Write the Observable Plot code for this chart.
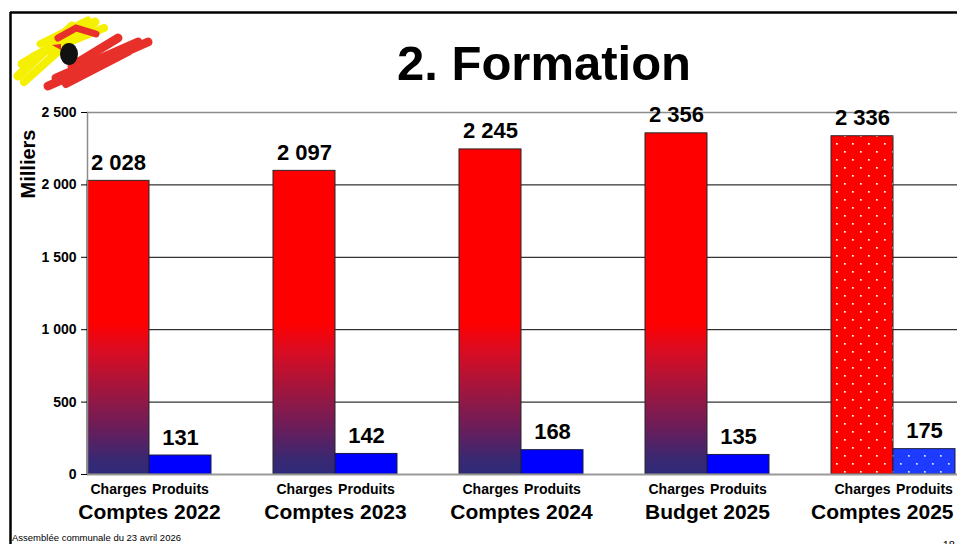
<!DOCTYPE html>
<html><head><meta charset="utf-8">
<script src="https://cdn.jsdelivr.net/npm/d3@7"></script>
<script src="https://cdn.jsdelivr.net/npm/@observablehq/plot@0.6"></script>
<style>
html,body{margin:0;padding:0;overflow:hidden;background:#fff;}
#slide{position:relative;width:957px;height:544px;overflow:hidden;font-family:"Liberation Sans",Arial,sans-serif;}
#overlay{position:absolute;left:0;top:0;}
#chart{position:absolute;left:0;top:100px;width:1017px;}
#chart svg{max-width:none !important;}
</style></head><body>
<div id="slide">
<svg id="overlay" width="957" height="544" font-family="'Liberation Sans', Arial, sans-serif">
  <line x1="10" y1="12.5" x2="957" y2="12.5" stroke="#000" stroke-width="2.5"/>
  <line x1="10.5" y1="12" x2="10.5" y2="544" stroke="#000" stroke-width="2.5"/>
  <g stroke-linecap="round" fill="none">
    <path d="M18 76 L72 26" stroke="#f5f000" stroke-width="9"/>
    <path d="M22 64 L95 22" stroke="#f5f000" stroke-width="9"/>
    <path d="M24 82 L62 48" stroke="#f5f000" stroke-width="8"/>
    <path d="M34 56 L104 28" stroke="#f5f000" stroke-width="8"/>
    <path d="M40 44 L88 20" stroke="#f5f000" stroke-width="7"/>
    <path d="M58 38 L76 28 L96 34" stroke="#e8302a" stroke-width="7"/>
    <path d="M48 86 L148 42" stroke="#e8302a" stroke-width="9"/>
    <path d="M56 78 L138 42" stroke="#e8302a" stroke-width="9"/>
    <path d="M66 84 L128 52" stroke="#e8302a" stroke-width="8"/>
    <path d="M72 66 L118 38" stroke="#e8302a" stroke-width="9"/>
  </g>
  <ellipse cx="69" cy="54" rx="9" ry="11" fill="#111"/>
  <path d="M61 44 L52 45 L61 50 Z" fill="#e8302a"/>
  <text x="544" y="80" text-anchor="middle" font-size="49" font-weight="bold" fill="#000">2. Formation</text>
  <text transform="translate(35,164) rotate(-90)" text-anchor="middle" font-size="20" font-weight="bold" fill="#000">Milliers</text>
  <text x="12" y="541" font-size="9.5" fill="#000">Assemblée communale du 23 avril 2026</text>
  <text x="955" y="549" text-anchor="end" font-size="11" fill="#000">18</text>
</svg>
<div id="chart"></div>
</div>
<svg width="0" height="0" style="position:absolute">
  <defs>
    <linearGradient id="gradCharges" gradientUnits="userSpaceOnUse" x1="0" x2="0" y1="0" y2="1">
      <stop offset="0" stop-color="#FF0000"/>
      <stop offset="0.2" stop-color="#D80C24"/>
      <stop offset="0.45" stop-color="#A0163E"/>
      <stop offset="0.7" stop-color="#6A1D5A"/>
      <stop offset="0.9" stop-color="#3A2872"/>
      <stop offset="1" stop-color="#2E2A7A"/>
    </linearGradient>
    <pattern id="dotsRed" patternUnits="userSpaceOnUse" width="16" height="16">
      <rect width="16" height="16" fill="#FF0000"/>
      <rect x="3" y="3" width="1.7" height="1.7" fill="#fff"/>
      <rect x="11" y="11" width="1.7" height="1.7" fill="#fff"/>
    </pattern>
    <pattern id="dotsBlue" patternUnits="userSpaceOnUse" width="16" height="16">
      <rect width="16" height="16" fill="#1E3CFF"/>
      <rect x="3" y="3" width="1.7" height="1.7" fill="#dfe6ff"/>
      <rect x="11" y="11" width="1.7" height="1.7" fill="#dfe6ff"/>
    </pattern>
  </defs>
</svg>
<script>
const groups = ["Comptes 2022", "Comptes 2023", "Comptes 2024", "Budget 2025", "Comptes 2025"];
const types = ["Charges", "Produits"];
const charges = [2028, 2097, 2245, 2356, 2336];
const produits = [131, 142, 168, 135, 175];
const yTicks = [0, 500, 1000, 1500, 2000, 2500];
const gridValues = [500, 1000, 1500, 2000];
const patternedGroup = "Comptes 2025";

const fmt = d3.formatLocale({decimal: ",", thousands: " ", grouping: [3], currency: ["", ""]}).format(",d");

const data = [];
groups.forEach((g, i) => {
  data.push({group: g, type: types[0], value: charges[i]});
  data.push({group: g, type: types[1], value: produits[i]});
});
const isPat = d => d.group === patternedGroup;
const lastGroup = groups[groups.length - 1];

const groupLabelStyle = {fontSize: 21, fontWeight: "bold", fill: "#000", lineAnchor: "middle", dy: 38};

const chart = Plot.plot({
  width: 1017, height: 430,
  marginLeft: 86, marginRight: 0, marginTop: 12, marginBottom: 56,
  fx: {domain: groups, padding: 0, axis: null},
  x: {domain: [...types, "_"], padding: 0, axis: null},
  y: {domain: [0, 2500], axis: null},
  style: {fontFamily: "'Liberation Sans', Arial, sans-serif", overflow: "visible", background: "transparent", color: "#000", maxWidth: "none"},
  marks: [
    Plot.ruleY(gridValues, {stroke: "#000", strokeWidth: 1}),
    Plot.ruleY([2500], {stroke: "#8c8c8c", strokeWidth: 1.5}),
    Plot.barY(data.filter(d => d.type === "Charges" && !isPat(d)), {fx: "group", x: "type", y: "value", fill: "url(#gradCharges)", stroke: "#262626", strokeWidth: 1}),
    Plot.barY(data.filter(d => d.type === "Produits" && !isPat(d)), {fx: "group", x: "type", y: "value", fill: "#0000FF", stroke: "#1a1a40", strokeWidth: 1}),
    Plot.barY(data.filter(d => d.type === "Charges" && isPat(d)), {fx: "group", x: "type", y: "value", fill: "url(#dotsRed)", stroke: "#262626", strokeWidth: 1}),
    Plot.barY(data.filter(d => d.type === "Produits" && isPat(d)), {fx: "group", x: "type", y: "value", fill: "url(#dotsBlue)", stroke: "#1a1a40", strokeWidth: 1}),
    Plot.ruleY([0], {stroke: "#999", strokeWidth: 2}),
    Plot.frame({anchor: "left", facetAnchor: "left", stroke: "#8c8c8c", strokeWidth: 1.5}),
    Plot.axisY({ticks: yTicks, tickSize: 6, tickPadding: 5, tickFormat: fmt, fontSize: 14, fontWeight: "bold", label: null}),
    Plot.axisX({tickSize: 0, tickPadding: 10, fontSize: 14, fontWeight: "bold", tickFormat: d => d === "_" ? "" : d, label: null}),
    Plot.text(data, {fx: "group", x: "type", y: "value", text: d => fmt(d.value), dy: -18, fontSize: 22, fontWeight: "bold", fill: "#000"}),
    Plot.text(groups.filter(d => d !== lastGroup), {fx: d => d, text: d => d, frameAnchor: "bottom-left", textAnchor: "middle", dx: 62, ...groupLabelStyle}),
    Plot.text([lastGroup], {fx: d => d, text: d => d, frameAnchor: "bottom-right", textAnchor: "end", dx: -64, ...groupLabelStyle})
  ]
});
document.getElementById("chart").appendChild(chart);

// gradient spans from value 1050 (red) down to 0 (navy), in the chart's y coordinates
const ys = chart.scale("y");
const g = document.getElementById("gradCharges");
g.setAttribute("y1", ys.apply(1050));
g.setAttribute("y2", ys.apply(0));
</script>
</body></html>
